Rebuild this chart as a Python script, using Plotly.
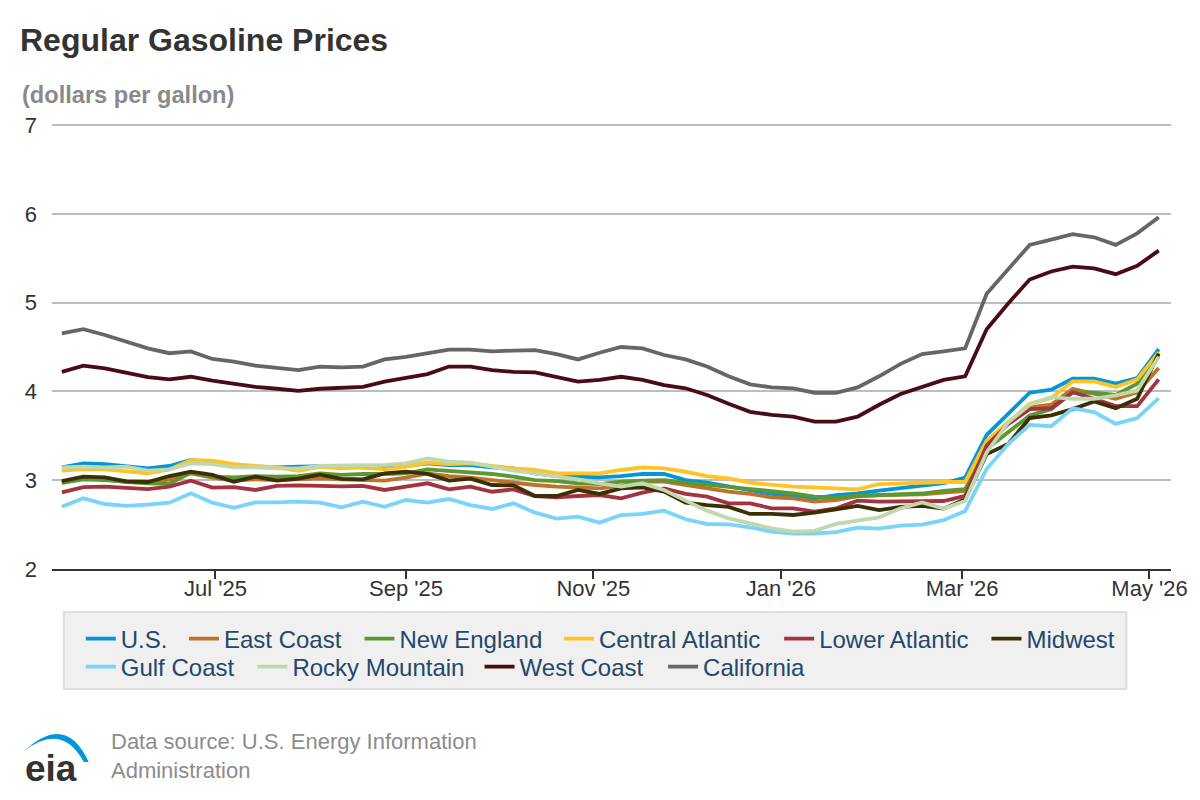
import pandas as pd
import plotly.graph_objects as go

# weekly retail regular gasoline prices, $/gal
weeks = pd.date_range(start="2025-05-12", periods=52, freq="7D")

us = [3.145, 3.19, 3.18, 3.16, 3.134, 3.16, 3.227, 3.197, 3.16, 3.152, 3.145, 3.152, 3.16,
      3.16, 3.145, 3.134, 3.16, 3.19, 3.17, 3.17, 3.145, 3.134, 3.077, 3.047, 3.04, 3.032,
      3.047, 3.07, 3.07, 3.0, 2.972, 2.927, 2.882, 2.845, 2.815, 2.796, 2.833, 2.852, 2.882,
      2.908, 2.94, 2.966, 3.03, 3.51, 3.747, 3.985, 4.02, 4.143, 4.143, 4.087, 4.15, 4.475]
east_coast = [2.97, 3.02, 3.01, 2.98, 2.97, 3.01, 3.077, 3.03, 2.995, 3.01, 3.0, 3.01, 3.02,
              3.01, 3.0, 2.995, 3.03, 3.077, 3.047, 3.03, 3.0, 2.972, 2.946, 2.927, 2.92,
              2.908, 2.935, 2.983, 2.983, 2.946, 2.908, 2.87, 2.845, 2.807, 2.796, 2.758,
              2.777, 2.822, 2.833, 2.833, 2.84, 2.86, 2.88, 3.39, 3.65, 3.82, 3.85, 4.03,
              3.97, 3.917, 3.99, 4.264]
new_england = [2.97, 3.01, 3.0, 2.98, 2.965, 2.96, 3.085, 3.04, 3.032, 3.047, 3.04, 3.047,
               3.077, 3.059, 3.07, 3.07, 3.077, 3.122, 3.107, 3.089, 3.07, 3.04, 3.0, 2.99,
               2.965, 2.957, 2.983, 2.995, 3.0, 2.972, 2.946, 2.92, 2.897, 2.871, 2.852,
               2.815, 2.807, 2.822, 2.833, 2.844, 2.85, 2.88, 2.898, 3.35, 3.54, 3.73, 3.8,
               3.99, 3.985, 3.96, 4.087, 4.39]
central_atlantic = [3.107, 3.126, 3.122, 3.104, 3.077, 3.122, 3.227, 3.22, 3.182, 3.16, 3.145,
                    3.107, 3.152, 3.134, 3.145, 3.122, 3.152, 3.197, 3.182, 3.19, 3.16, 3.134,
                    3.115, 3.077, 3.077, 3.077, 3.115, 3.145, 3.134, 3.096, 3.047, 3.02, 2.972,
                    2.946, 2.927, 2.92, 2.908, 2.897, 2.957, 2.965, 2.975, 2.98, 2.98, 3.445,
                    3.65, 3.86, 3.925, 4.113, 4.113, 4.05, 4.136, 4.44]
lower_atlantic = [2.863, 2.923, 2.927, 2.916, 2.9, 2.927, 2.995, 2.916, 2.923, 2.89, 2.935,
                  2.942, 2.935, 2.93, 2.935, 2.89, 2.927, 2.965, 2.897, 2.927, 2.87, 2.897,
                  2.822, 2.807, 2.822, 2.833, 2.796, 2.86, 2.908, 2.845, 2.815, 2.74, 2.74,
                  2.683, 2.683, 2.646, 2.683, 2.77, 2.758, 2.758, 2.765, 2.766, 2.823, 3.39,
                  3.63, 3.8, 3.81, 3.99, 3.917, 3.834, 3.834, 4.136]
midwest = [2.99, 3.04, 3.032, 2.987, 2.98, 3.047, 3.096, 3.059, 2.983, 3.04, 2.995, 3.017,
           3.062, 3.014, 3.01, 3.077, 3.096, 3.07, 2.995, 3.017, 2.946, 2.942, 2.822, 2.822,
           2.89, 2.845, 2.908, 2.92, 2.871, 2.747, 2.72, 2.7, 2.62, 2.62, 2.608, 2.634, 2.671,
           2.71, 2.664, 2.7, 2.71, 2.68, 2.785, 3.294, 3.408, 3.7, 3.73, 3.8, 3.887, 3.81,
           3.917, 4.426]
gulf_coast = [2.7, 2.796, 2.732, 2.71, 2.725, 2.747, 2.852, 2.747, 2.69, 2.75, 2.75, 2.758,
              2.747, 2.695, 2.758, 2.7, 2.777, 2.747, 2.788, 2.72, 2.676, 2.74, 2.634, 2.567,
              2.59, 2.522, 2.608, 2.62, 2.657, 2.56, 2.507, 2.503, 2.47, 2.42, 2.4, 2.4, 2.415,
              2.465, 2.454, 2.488, 2.5, 2.55, 2.653, 3.125, 3.408, 3.623, 3.608, 3.81, 3.766,
              3.634, 3.7, 3.925]
rocky_mountain = [3.145, 3.152, 3.145, 3.152, 3.107, 3.122, 3.19, 3.182, 3.145, 3.145, 3.134,
                  3.134, 3.16, 3.17, 3.17, 3.17, 3.19, 3.246, 3.21, 3.197, 3.152, 3.107, 3.077,
                  3.047, 3.01, 2.965, 2.927, 2.965, 2.89, 2.77, 2.657, 2.57, 2.514, 2.458, 2.42,
                  2.43, 2.507, 2.544, 2.582, 2.683, 2.75, 2.68, 2.766, 3.313, 3.65, 3.85, 3.936,
                  3.917, 3.917, 3.955, 4.01, 4.39]
west_coast = [4.22, 4.29, 4.26, 4.21, 4.16, 4.135, 4.165, 4.12, 4.08, 4.05, 4.03, 4.005, 4.03,
              4.04, 4.05, 4.11, 4.15, 4.195, 4.28, 4.28, 4.24, 4.22, 4.215, 4.165, 4.11, 4.13,
              4.165, 4.13, 4.07, 4.035, 3.96, 3.86, 3.77, 3.735, 3.715, 3.66, 3.66, 3.715,
              3.85, 3.97, 4.05, 4.13, 4.17, 4.7, 4.99, 5.26, 5.35, 5.405, 5.385, 5.32, 5.415,
              5.585]
california = [4.654, 4.7, 4.635, 4.56, 4.485, 4.43, 4.45, 4.365, 4.335, 4.29, 4.27, 4.24,
              4.28, 4.27, 4.28, 4.36, 4.39, 4.43, 4.47, 4.47, 4.45, 4.46, 4.465, 4.42, 4.36,
              4.435, 4.5, 4.485, 4.41, 4.36, 4.28, 4.17, 4.08, 4.045, 4.035, 3.985, 3.985,
              4.045, 4.17, 4.31, 4.42, 4.45, 4.485, 5.1, 5.375, 5.65, 5.71, 5.77, 5.735, 5.65,
              5.78, 5.96]

tick_dates = ["2025-07-01", "2025-09-01", "2025-11-01", "2026-01-01", "2026-03-01", "2026-05-01"]
tick_labels = ["Jul '25", "Sep '25", "Nov '25", "Jan '26", "Mar '26", "May '26"]

# name, values, colour, legend entry text start (px), legend row
series = [
    ("U.S.", us, "#0096d7", 123, 1),
    ("East Coast", east_coast, "#bd732a", 227, 1),
    ("New England", new_england, "#5d9732", 404, 1),
    ("Central Atlantic", central_atlantic, "#ffc423", 605, 1),
    ("Lower Atlantic", lower_atlantic, "#a33340", 827, 1),
    ("Midwest", midwest, "#3b2f05", 1036, 1),
    ("Gulf Coast", gulf_coast, "#79d3fb", 123, 2),
    ("Rocky Mountain", rocky_mountain, "#bfd8ad", 296, 2),
    ("West Coast", west_coast, "#4a0c14", 525, 2),
    ("California", california, "#666666", 710, 2),
]

FONT = "Liberation Sans, Arial, sans-serif"
ROW_Y = {1: 639, 2: 667}

# plot area in pixels: x 52..1180, y 123..569 (range top a hair above 7 so its gridline shows)
L, R, T, B = 52, 1180, 123, 569
Y_TOP = 2 + (B - T) / 88.8


def px(x):
    return (x - L) / (R - L)


def py(y):
    return (B - y) / (B - T)


fig = go.Figure()
legends = {}
for k, (name, vals, color, text_x, row) in enumerate(series):
    key = "legend" if k == 0 else "legend%d" % (k + 1)
    fig.add_trace(go.Scatter(
        x=weeks, y=vals, mode="lines", name=name, legend=key, showlegend=True,
        line=dict(color=color, width=3.8),
        hovertemplate="%{y:.3f}<extra>" + name + "</extra>",
    ))
    legends[key] = dict(orientation="h", x=px(text_x - 42), y=py(ROW_Y[row]),
                        xanchor="left", yanchor="middle", bgcolor="rgba(0,0,0,0)",
                        font=dict(size=24, color="#24476b"))

# grey legend box
fig.add_shape(type="rect", xref="paper", yref="paper", layer="below",
              x0=px(64), x1=px(1135), y0=py(689), y1=py(612),
              fillcolor="#f0f0f0", line=dict(color="#dedede", width=2))

# eia swoosh
swoosh = "M {} {} Q {} {} {} {} L {} {} Q {} {} {} {} Z".format(
    px(24), py(751), px(66), py(712), px(89), py(762),
    px(84), py(762), px(62), py(722), px(24), py(751))
fig.add_shape(type="path", xref="paper", yref="paper", path=swoosh,
              fillcolor="#0096d7", line=dict(width=0))

annotations = [
    dict(text="<b>(dollars per gallon)</b>", x=px(20), y=py(95), xanchor="left",
         yanchor="middle", font=dict(size=23.6, color="#8a8a8a")),
    dict(text="<b>eia</b>", x=px(51), y=py(768), xanchor="center", yanchor="middle",
         font=dict(size=37, color="#333333")),
    dict(text="Data source: U.S. Energy Information", x=px(109), y=py(741),
         xanchor="left", yanchor="middle", font=dict(size=22, color="#8c8c8c")),
    dict(text="Administration", x=px(109), y=py(770), xanchor="left",
         yanchor="middle", font=dict(size=22, color="#8c8c8c")),
]
for a in annotations:
    fig.add_annotation(xref="paper", yref="paper", showarrow=False, **a)

fig.update_layout(
    width=1200,
    height=800,
    margin=dict(l=L, r=1200 - R, t=T, b=800 - B),
    plot_bgcolor="white",
    paper_bgcolor="white",
    showlegend=True,
    font=dict(family=FONT, color="#333333"),
    title=dict(text="<b>Regular Gasoline Prices</b>", x=20 / 1200, xanchor="left",
               xref="container", y=1 - 40 / 800, yanchor="middle", yref="container",
               font=dict(size=32, color="#333333")),
    hovermode="x unified",
    **legends,
)

fig.update_xaxes(
    type="date",
    range=["2025-05-08 19:00", "2026-05-08"],
    tickvals=tick_dates,
    ticktext=tick_labels,
    showgrid=False,
    showline=True,
    linecolor="#333333",
    linewidth=2,
    ticks="outside",
    ticklen=8,
    tickwidth=2,
    tickcolor="#333333",
    ticklabelstandoff=-9,
    tickfont=dict(size=22, color="#333333"),
)
fig.update_yaxes(
    range=[2, Y_TOP],
    tickvals=[2, 3, 4, 5, 6, 7],
    showgrid=True,
    gridcolor="#bdbdbd",
    gridwidth=2,
    zeroline=False,
    showline=False,
    ticks="",
    ticklabelstandoff=14,
    tickfont=dict(size=22, color="#333333"),
)

fig.write_html("out.html", config={"displayModeBar": False},
               post_script="document.body.style.margin='0';")
